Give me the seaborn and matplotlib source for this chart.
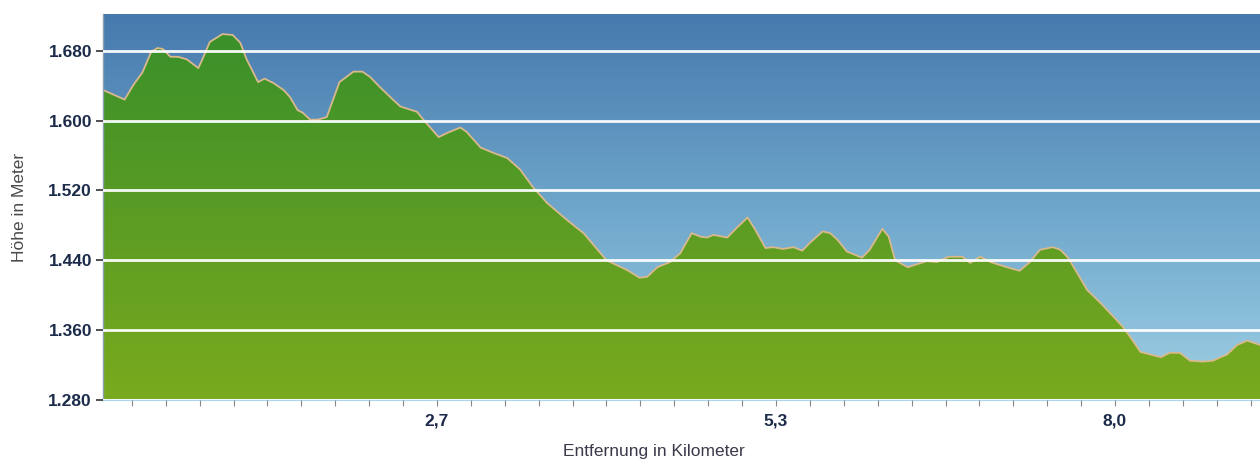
import numpy as np
import pandas as pd
import matplotlib
matplotlib.use("Agg")
import matplotlib.pyplot as plt
from matplotlib.colors import LinearSegmentedColormap
from matplotlib.ticker import FixedLocator, FuncFormatter
import seaborn as sns

# ---- data ----
distance_km = [0.04, 0.21, 0.28, 0.35, 0.42, 0.47, 0.51, 0.57, 0.63, 0.70, 0.79, 0.83, 0.88, 0.98,
               1.06, 1.12, 1.17, 1.26, 1.31, 1.38, 1.46, 1.51, 1.57, 1.61, 1.67, 1.73, 1.80, 1.85,
               1.90, 2.01, 2.08, 2.14, 2.22, 2.32, 2.38, 2.51, 2.56, 2.68, 2.75, 2.85, 2.90, 3.01,
               3.11, 3.22, 3.32, 3.42, 3.53, 3.69, 3.82, 3.93, 4.00, 4.16, 4.26, 4.32, 4.40, 4.50,
               4.58, 4.67, 4.74, 4.79, 4.84, 4.95, 5.03, 5.11, 5.17, 5.25, 5.31, 5.39, 5.47, 5.54,
               5.60, 5.70, 5.76, 5.82, 5.89, 6.01, 6.07, 6.17, 6.22, 6.27, 6.37, 6.41, 6.52, 6.60,
               6.69, 6.80, 6.86, 6.94, 7.02, 7.15, 7.25, 7.33, 7.41, 7.51, 7.57, 7.63, 7.70, 7.78,
               7.88, 7.99, 8.06, 8.12, 8.20, 8.28, 8.36, 8.43, 8.51, 8.59, 8.69, 8.77, 8.83, 8.88,
               8.96, 9.04, 9.14]
elevation_m = [1635, 1624, 1641, 1655, 1679, 1683, 1682, 1673, 1673, 1670, 1660, 1673, 1690, 1699,
               1698, 1689, 1670, 1644, 1648, 1643, 1635, 1627, 1612, 1609, 1601, 1601, 1604, 1624,
               1644, 1656, 1656, 1650, 1638, 1624, 1616, 1610, 1601, 1581, 1586, 1592, 1587, 1569,
               1563, 1557, 1544, 1524, 1506, 1486, 1471, 1452, 1440, 1429, 1420, 1421, 1432, 1438,
               1448, 1471, 1467, 1466, 1469, 1466, 1478, 1489, 1475, 1454, 1455, 1453, 1455, 1451,
               1460, 1473, 1471, 1463, 1450, 1443, 1452, 1476, 1467, 1440, 1432, 1434, 1439, 1438,
               1444, 1444, 1437, 1444, 1438, 1432, 1428, 1438, 1452, 1455, 1452, 1443, 1426, 1406,
               1392, 1375, 1364, 1352, 1335, 1332, 1329, 1334, 1334, 1325, 1324, 1325, 1329, 1332,
               1343, 1348, 1343]
y_ticks = [1280, 1360, 1440, 1520, 1600, 1680]
x_major = [8 / 3, 16 / 3, 8.0]
x_major_labels = ["2,7", "5,3", "8,0"]
x_minor_step = 8 / 30

df = pd.DataFrame({"km": distance_km, "elev": elevation_m})

sns.set_style("white")
plt.rcParams["font.family"] = ["Liberation Sans", "DejaVu Sans"]

W, H = 1260, 461
fig = plt.figure(figsize=(W / 100, H / 100), dpi=100)
ax = fig.add_axes([103 / W, 61 / H, 1 - 103 / W, (400 - 14) / H])

x0, x1 = 0.04, 9.14
y0, y1 = 1280, 1722
ax.set_xlim(x0, x1)
ax.set_ylim(y0, y1)

grad = np.linspace(0, 1, 256).reshape(-1, 1)  # row 0 = bottom (origin lower)

# sky gradient background (bottom -> top)
sky = LinearSegmentedColormap.from_list("sky", ["#9fd0e4", "#6ea6cb", "#4679ad"])
ax.imshow(grad, cmap=sky, aspect="auto", extent=[x0, x1, y0, y1], origin="lower",
          zorder=0, interpolation="bicubic")

# green fill with gradient (bottom -> top)
poly = ax.fill_between(df["km"], df["elev"], y0, color="#5a9e22", lw=0, zorder=1)
greens = LinearSegmentedColormap.from_list("gr", ["#7aaa1e", "#5b9c24", "#3a902a"])
gimg = ax.imshow(grad, cmap=greens, aspect="auto", extent=[x0, x1, y0, 1700], origin="lower",
                 zorder=1.5, interpolation="bicubic")
gimg.set_clip_path(poly.get_paths()[0], transform=ax.transData)
ax.set_xlim(x0, x1)
ax.set_ylim(y0, y1)

# outline
sns.lineplot(data=df, x="km", y="elev", ax=ax, color="#d9b98c", lw=1.3, zorder=2)

# grid
ax.set_yticks(y_ticks)
ax.yaxis.set_major_formatter(FuncFormatter(lambda v, p: f"{int(v) // 1000}.{int(v) % 1000:03d}"))
ax.grid(axis="y", color="white", lw=2.0, alpha=0.95)
ax.grid(axis="x", visible=False)
ax.set_axisbelow(False)
for gl in ax.get_ygridlines():
    gl.set_zorder(2.5)

ax.xaxis.set_major_locator(FixedLocator(x_major))
ax.set_xticklabels(x_major_labels)
minors = [x_minor_step * i for i in range(1, 35) if x_minor_step * i < x1]
ax.xaxis.set_minor_locator(FixedLocator(minors))

ax.tick_params(axis="y", which="major", left=True, length=5, width=1.2, color="#333333",
               labelsize=12.5, labelcolor="#1c2b4a", pad=3)
ax.tick_params(axis="x", which="both", bottom=True, length=4, width=0.8, color="#888888",
               labelsize=12.5, labelcolor="#1c2b4a", pad=6)
for lab in ax.get_xticklabels() + ax.get_yticklabels():
    lab.set_fontweight("bold")

for s in ["top", "right"]:
    ax.spines[s].set_visible(False)
ax.spines["left"].set_color("#8aa0b0")
ax.spines["left"].set_linewidth(1.0)
ax.spines["bottom"].set_color("#a9d6ea")
ax.spines["bottom"].set_linewidth(1.5)

ax.set_xlabel("Entfernung in Kilometer", fontsize=12.5, color="#3a3a4a")
ax.xaxis.set_label_coords((654 - 103) / (W - 103), -(444 - 400) / 386)
ax.set_ylabel("Höhe in Meter", fontsize=12.5, color="#4a4a4a")
ax.yaxis.set_label_coords(-(103 - 27) / (W - 103), 0.5)

fig.savefig("out.png", dpi=100)
